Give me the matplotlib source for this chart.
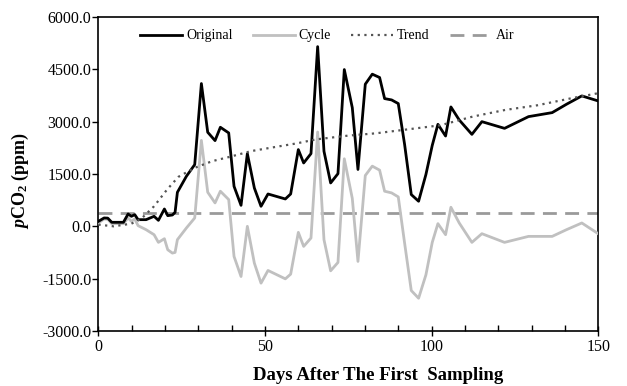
import numpy as np
import matplotlib
matplotlib.use("Agg")
import matplotlib.pyplot as plt
from matplotlib.ticker import MultipleLocator, FormatStrFormatter

# ---------------------------------------------------------------------- #
# -------------------------------- Data -------------------------------- #

days = [0, 1.7, 2.8, 4.0, 7.5, 8.9, 9.9, 10.9, 11.9, 14.3, 16.7, 18.0,
        19.8, 20.8, 22.2, 23.0, 23.7, 26.4, 28.9, 30.9, 32.8, 35.0, 36.6,
        39.1, 40.7, 42.8, 44.7, 46.8, 48.8, 50.9, 56.1, 57.7, 60.0, 61.6,
        63.8, 65.8, 67.7, 69.7, 71.9, 73.8, 76.2, 77.9, 80.1, 82.2, 84.4,
        85.9, 88.0, 90.0, 91.9, 93.9, 96.1, 98.3, 100.2, 101.9, 104.2,
        105.8, 108.3, 112.1, 115.1, 121.9, 129.1, 136.2, 140.5, 145.1, 150.0]

original = [143, 240, 235, 115, 115, 354, 287, 335, 191, 191, 287, 172,
            497, 306, 325, 400, 975, 1434, 1769, 4092, 2696, 2457, 2839,
            2677, 1147, 602, 2084, 1099, 574, 927, 784, 927, 2199, 1816,
            2084, 5150, 2151, 1243, 1510, 4493, 3400, 1630, 4074, 4361, 4265,
            3661, 3623, 3518, 2348, 911, 719, 1486, 2320, 2924, 2588,
            3422, 3048, 2636, 3000, 2808, 3144, 3259, 3499, 3738, 3594]

cycle = [96, 211, 200, 77, 77, 240, 144, 211, 19, -96, -240, -460,
         -355, -671, -767, -748, -383, -48, 240, 2463, 978, 671, 1006,
         767, -863, -1438, 0, -1054, -1629, -1265, -1505, -1371, -173, -575,
         -335, 2703, -383, -1275, -1035, 1936, 800, -1006, 1457, 1725, 1610,
         1006, 958, 843, -479, -1840, -2061, -1390, -460, 77, -240,
         546, 96, -460, -211, -460, -288, -288, -96, 96, -211]

trend_days = [0, 4.6, 9.9, 12.8, 16.7, 20.6, 24.0, 28.9, 34.2, 39.1, 45.9,
              51.7, 59.5, 65.3, 75.0, 83.2, 92.9, 102.6, 112.3, 122.1,
              131.8, 141.5, 150.0]
trend = [48, 0, 77, 211, 575, 1054, 1418, 1677, 1869, 1984, 2157,
         2252, 2377, 2492, 2600, 2665, 2780, 2895, 3144, 3336,
         3470, 3662, 3815]

air_level = 390

# ---------------------------------------------------------------------- #
# ------------------------------- Styling ------------------------------ #

plt.rcParams['font.family'] = ['Liberation Serif', 'DejaVu Serif']
plt.rcParams['mathtext.fontset'] = 'custom'
plt.rcParams['mathtext.rm'] = 'Liberation Serif'
plt.rcParams['mathtext.it'] = 'Liberation Serif:italic'
plt.rcParams['mathtext.bf'] = 'Liberation Serif:bold'
plt.rcParams['mathtext.bfit'] = 'Liberation Serif:italic:bold'

fig = plt.figure(figsize=(6.27, 3.86), dpi=100)
ax = fig.add_axes([0.157, 0.1425, 0.797, 0.8135])

# ---------------------------------------------------------------------- #
# ------------------------------ Plotting ------------------------------ #

ax.plot(days, original, color='black', linewidth=2, label='Original', zorder=4)
ax.plot(days, cycle, color='#c0c0c0', linewidth=2, label='Cycle', zorder=3)
ax.plot(trend_days, trend, color='#555555', linestyle=(0, (1, 2)),
        linewidth=1.6, label='Trend', zorder=5)
ax.axhline(air_level, color='#9a9a9a', linestyle=(0, (5, 3)), linewidth=2,
           label='Air', zorder=2)

ax.set_xlim(0, 150)
ax.set_ylim(-3000, 6000)
ax.xaxis.set_major_locator(MultipleLocator(50))
ax.xaxis.set_minor_locator(MultipleLocator(10))
ax.yaxis.set_major_locator(MultipleLocator(1500))
ax.yaxis.set_major_formatter(FormatStrFormatter('%.1f'))

ax.tick_params(axis='x', which='major', direction='inout', length=7, width=1,
               labelsize=11.5, pad=2)
ax.tick_params(axis='x', which='minor', direction='in', length=4, width=1)
ax.tick_params(axis='y', which='major', direction='out', length=4, width=1,
               labelsize=11.5, pad=1)
for spine in ax.spines.values():
    spine.set_linewidth(1.2)

ax.set_xlabel('Days After The First  Sampling', fontsize=13.5,
              fontweight='bold', labelpad=10.5)
ax.xaxis.set_label_coords(0.56, -0.115)
ax.set_ylabel(r'$\mathbfit{p}\mathbf{CO_2}$' + ' (ppm)', fontsize=13,
              fontweight='bold', labelpad=9)
ax.yaxis.set_label_coords(-0.134, 0.48)

ax.legend(loc='upper center', bbox_to_anchor=(0.458, 1.0), ncol=4,
          frameon=False, fontsize=10, handlelength=3.0, handletextpad=0.3,
          columnspacing=1.45)

fig.savefig('out.png', dpi=100)
